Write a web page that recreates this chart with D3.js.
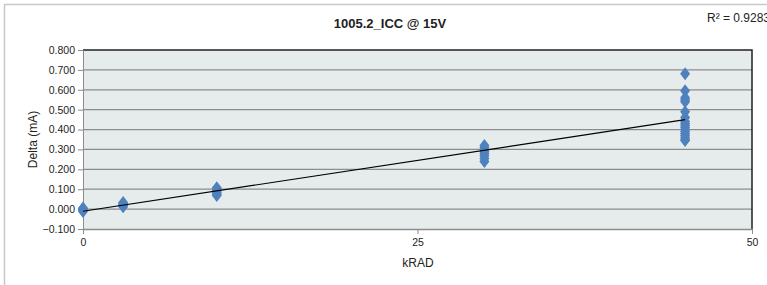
<!DOCTYPE html>
<html><head><meta charset="utf-8">
<script src="https://cdn.jsdelivr.net/npm/d3@7"></script>
<style>body{margin:0;background:#fff}svg{display:block}text{font-family:"Liberation Sans Narrow","Liberation Sans",Arial,sans-serif}</style>
</head><body><svg id="c" width="767" height="285"></svg>
<script>
const doses = [0, 3, 10, 30, 45];
const deltas0 = [-0.012, -0.006, -0.002, 0.002, 0.005];
const deltas3 = [0.012, 0.018, 0.022, 0.027, 0.033];
const deltas10 = [0.068, 0.076, 0.085, 0.092, 0.100, 0.108];
const deltas30 = [0.240, 0.255, 0.268, 0.280, 0.290, 0.300, 0.310, 0.320];
const deltas45 = [0.680, 0.595, 0.560, 0.550, 0.540, 0.490, 0.460, 0.440, 0.430, 0.420, 0.410, 0.400, 0.390, 0.380, 0.370, 0.360, 0.350, 0.345];
const yTicks = [-0.1, 0, 0.1, 0.2, 0.3, 0.4, 0.5, 0.6, 0.7, 0.8];
const xTicks = [0, 25, 50];
const titleText = "1005.2_ICC @ 15V";
const r2Text = "R² = 0.9283";

const groups = [deltas0, deltas3, deltas10, deltas30, deltas45];
const pts = [];
groups.forEach((g, i) => g.forEach(v => pts.push({x: doses[i], y: v})));

const svg = d3.select("#c");
const m = {l: 83, r: 752, t: 50, b: 229};
const x = d3.scaleLinear().domain([0, 50]).range([m.l, m.r]);
const y = d3.scaleLinear().domain([-0.1, 0.8]).range([m.b, m.t]);

svg.append("rect").attr("x", 4.5).attr("y", 4.5).attr("width", 800).attr("height", 300)
  .attr("fill", "#fff").attr("stroke", "#c8c8c8").attr("stroke-width", 1.5);

svg.append("rect").attr("x", m.l).attr("y", m.t).attr("width", m.r - m.l).attr("height", m.b - m.t)
  .attr("fill", "#e6ecec");

svg.append("g").selectAll("line").data(yTicks.filter(d => d > -0.1 && d < 0.8)).join("line")
  .attr("x1", m.l).attr("x2", m.r).attr("y1", d => y(d)).attr("y2", d => y(d))
  .attr("stroke", "#8c8c8c").attr("stroke-width", 1.3);

svg.append("path").attr("d", `M${m.l},${m.t}H${m.r}V${m.b}`).attr("fill", "none")
  .attr("stroke", "#222").attr("stroke-width", 1.5);

const yAxis = d3.axisLeft(y).tickValues(yTicks).tickFormat(d3.format(".3f")).tickSize(5).tickSizeOuter(0);
const gy = svg.append("g").attr("transform", `translate(${m.l},0)`).call(yAxis);
gy.select(".domain").attr("stroke", "#8c8c8c");
gy.selectAll(".tick line").attr("stroke", "#8c8c8c");
gy.selectAll("text").attr("font-size", 10.5).attr("fill", "#222").attr("x", -8);

const xAxis = d3.axisBottom(x).tickValues(xTicks).tickSize(5).tickSizeOuter(0);
const gx = svg.append("g").attr("transform", `translate(0,${m.b})`).call(xAxis);
gx.select(".domain").attr("stroke", "#8c8c8c").attr("stroke-width", 1.3);
gx.selectAll(".tick line").attr("stroke", "#8c8c8c");
gx.selectAll("text").attr("font-size", 10.5).attr("fill", "#222").attr("y", 10);

const diamond = "M0,-6.5L5,0L0,6.5L-5,0Z";
svg.append("g").selectAll("path").data(pts).join("path")
  .attr("d", diamond).attr("transform", d => `translate(${x(d.x)},${y(d.y)})`)
  .attr("fill", "#4f81bd");

const mx = d3.mean(pts, d => d.x), my = d3.mean(pts, d => d.y);
const slope = d3.sum(pts, d => (d.x - mx) * (d.y - my)) / d3.sum(pts, d => (d.x - mx) ** 2);
const icpt = my - slope * mx;
const xr = d3.extent(pts, d => d.x);
svg.append("line").attr("x1", x(xr[0])).attr("y1", y(icpt + slope * xr[0]))
  .attr("x2", x(xr[1])).attr("y2", y(icpt + slope * xr[1]))
  .attr("stroke", "#000").attr("stroke-width", 1.2);

svg.append("text").attr("x", 390).attr("y", 28).attr("text-anchor", "middle")
  .attr("font-size", 13).attr("font-weight", "bold").attr("fill", "#222").text(titleText);
svg.append("text").attr("x", 707).attr("y", 22).attr("font-size", 12).attr("fill", "#222").text(r2Text);
svg.append("text").attr("x", 418).attr("y", 267).attr("text-anchor", "middle")
  .attr("font-size", 12).attr("fill", "#222").text("kRAD");
svg.append("text").attr("transform", `translate(37,${(m.t + m.b) / 2}) rotate(-90)`).attr("text-anchor", "middle")
  .attr("font-size", 12).attr("fill", "#222").text("Delta (mA)");
</script></body></html>
